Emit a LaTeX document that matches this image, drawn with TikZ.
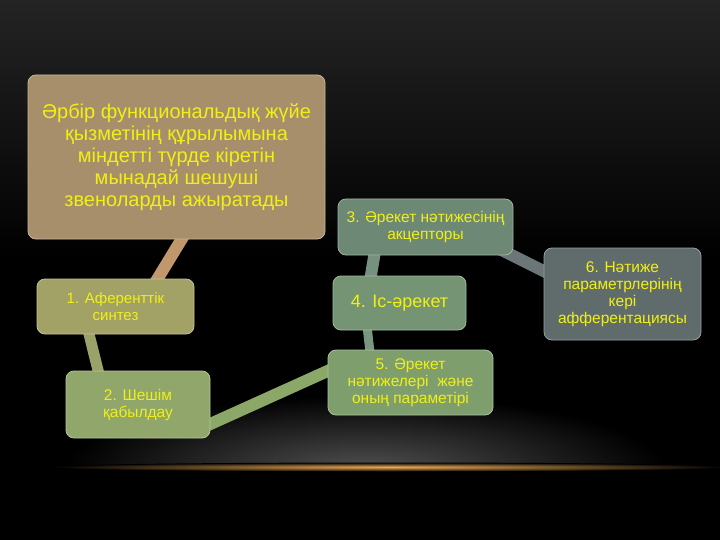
\documentclass[tikz,border=0pt]{standalone}
\usepackage{fontspec}
\setmainfont{Liberation Sans}
\usetikzlibrary{calc}
\pgfdeclarelayer{bg}
\pgfdeclarelayer{conn}
\pgfsetlayers{bg,conn,main}
\definecolor{cmain}{RGB}{168,143,107}
\definecolor{cbthree}{RGB}{110,136,118}
\definecolor{cbsix}{RGB}{96,108,108}
\definecolor{cbone}{RGB}{163,162,102}
\definecolor{cbtwo}{RGB}{145,166,106}
\definecolor{cbfour}{RGB}{116,148,116}
\definecolor{cbfive}{RGB}{126,158,110}
\definecolor{ctext}{RGB}{240,240,20}
\definecolor{kzero}{RGB}{192,152,108}
\definecolor{kone}{RGB}{155,162,105}
\definecolor{ktwo}{RGB}{140,168,104}
\definecolor{kfive}{RGB}{120,150,128}
\definecolor{kfour}{RGB}{118,145,128}
\definecolor{kthree}{RGB}{108,118,120}
\definecolor{topgray}{RGB}{36,36,36}
\definecolor{glowgray}{RGB}{80,80,80}
\definecolor{orangeline}{RGB}{235,170,85}
\tikzset{
  box/.style={draw=#1!65!white, fill=#1, line width=0.8pt, rounded corners=8pt,
    text=ctext, align=center, inner sep=2pt,
    font=\fontsize{15.5}{17}\selectfont},
  link/.style={line width=#1},
}
\begin{document}
\begin{tikzpicture}[x=1pt,y=-1pt]
\useasboundingbox (0,0) rectangle (720,540);
\begin{pgfonlayer}{bg}
  \fill[black] (0,0) rectangle (720,540);
  \shade[top color=topgray, bottom color=black] (0,0) rectangle (720,260);
  \begin{scope}
    \clip (0,300) rectangle (720,467);
    \shade[inner color=glowgray, outer color=black] (365,470) ellipse [x radius=300, y radius=75];
  \end{scope}
  \shade[inner color=orangeline, outer color=black] (390,467) ellipse [x radius=340, y radius=4.5];
\end{pgfonlayer}

\node[box=cmain, minimum width=297pt, minimum height=164pt, font=\fontsize{20}{22}\selectfont] (m) at (176.5,157)
  {Әрбір функциональдық жүйе\\қызметінің құрылымына\\міндетті түрде кіретін\\мынадай шешуші\\звеноларды ажыратады};
\node[box=cbthree, minimum width=175pt, minimum height=56pt] (b3) at (425.5,227)
  {3. Әрекет нәтижесінің\\акцепторы};
\node[box=cbsix, minimum width=157pt, minimum height=92pt] (b6) at (622.5,294)
  {6. Нәтиже\\параметрлерінің\\кері\\афферентациясы};
\node[box=cbone, minimum width=157pt, minimum height=55pt, font=\fontsize{15}{17}\selectfont] (b1) at (115.5,306.5)
  {1. Аференттік\\синтез};
\node[box=cbtwo, minimum width=144pt, minimum height=67pt] (b2) at (138,404.5)
  {2. Шешім\\қабылдау};
\node[box=cbfour, minimum width=133pt, minimum height=54pt, font=\fontsize{18}{20}\selectfont] (b4) at (399.5,303)
  {4. Іс-әрекет};
\node[box=cbfive, minimum width=165pt, minimum height=65pt] (b5) at (410.5,382.5)
  {5. Әрекет\\нәтижелері\ \ және\\оның параметірі};

\begin{pgfonlayer}{conn}
  \draw[link=12pt, kzero] ($(m.south west)+(160,-10)$) -- ($(b1.north west)+(115,10)$);
  \draw[link=11pt, kone] ($(b1.south west)+(50,-10)$) -- ($(b2.north west)+(35,10)$);
  \draw[link=12pt, ktwo] ($(b2.east)+(-10,24)$) -- ($(b5.west)+(10,-16)$);
  \draw[link=9pt, kfive] ($(b4.south west)+(34,-8)$) -- ($(b5.north west)+(43,8)$);
  \draw[link=12pt, kfour] ($(b3.south west)+(38,-8)$) -- ($(b4.north west)+(37,8)$);
  \draw[link=12pt, kthree] ($(b3.east)+(-14,22)$) -- ($(b6.west)+(10,-18)$);
\end{pgfonlayer}
\end{tikzpicture}
\end{document}
